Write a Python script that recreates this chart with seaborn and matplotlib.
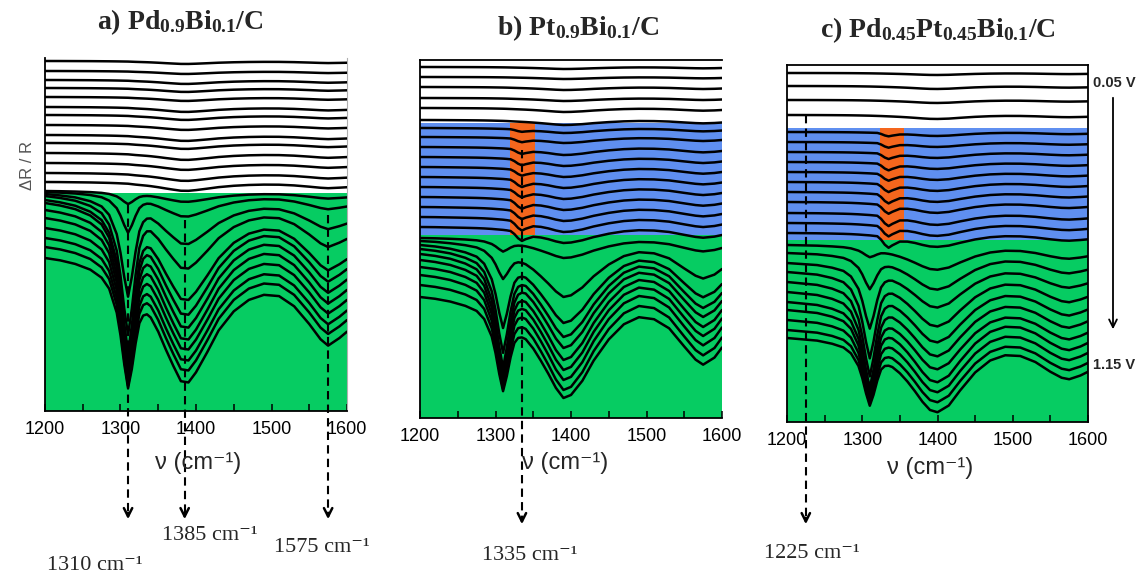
import numpy as np
import pandas as pd
import matplotlib
matplotlib.use('Agg')
import matplotlib.pyplot as plt
import seaborn as sns

NU = [1200, 1220, 1240, 1260, 1275, 1285, 1295, 1300, 1305, 1310, 1315, 1320,
      1325, 1330, 1335, 1340, 1350, 1360, 1370, 1380, 1390, 1400, 1415, 1430,
      1450, 1470, 1490, 1510, 1530, 1550, 1565, 1575, 1590, 1600]

# band shapes (normalised depth, 1 = band minimum)
SHARP_1310 = [0, .01, .02, .05, .09, .17, .36, .55, .80, 1.0, .76, .46,
              .22, .10, .04, .01, 0, 0, 0, 0, 0, 0, 0, 0,
              0, 0, 0, 0, 0, 0, 0, 0, 0, 0]
DIP_1335 = [0, 0, 0, 0, 0, 0, 0, 0, 0, 0, 0, 0,
            .3, .75, 1.0, .7, .2, .05, 0, 0, 0, 0, 0, 0,
            0, 0, 0, 0, 0, 0, 0, 0, 0, 0]
BROAD_A = [0, .01, .03, .05, .08, .10, .13, .15, .17, .19, .24, .29,
           .33, .37, .41, .46, .58, .72, .85, .97, .98, .90, .74, .57,
           .42, .33, .29, .30, .38, .52, .64, .69, .63, .58]
BROAD_B = [0, .01, .03, .05, .07, .09, .12, .14, .16, .18, .21, .25,
           .29, .33, .37, .41, .51, .63, .76, .90, 1.0, .97, .83, .63,
           .42, .27, .20, .22, .31, .49, .62, .67, .60, .50]
BROAD_C = [0, .01, .02, .04, .06, .08, .11, .13, .15, .17, .20, .23,
           .26, .30, .34, .38, .47, .58, .71, .85, .96, .99, .90, .70,
           .46, .30, .23, .24, .32, .45, .53, .55, .50, .45]

# a) Pd0.9Bi0.1/C  (offsets / depths in plot units)
A_WHITE_BASE = [350, 340, 331, 323, 314, 304, 296, 286, 276, 268, 258, 248, 238, 229]
A_WHITE_BROAD = [3, 3, 4, 4, 4, 5, 5, 5, 6, 6, 7, 7, 8, 9]
A_GREEN_BASE = [220, 219, 217, 215, 211, 208, 201, 193, 183, 173, 164, 153]
A_GREEN_SHARP = [11, 36, 93, 125, 133, 137, 137, 134, 128, 121, 115, 106]
A_GREEN_BROAD = [11, 25, 51, 74, 102, 114, 120, 124, 124, 125, 126, 127]

# b) Pt0.9Bi0.1/C
B_WHITE_BASE = [351, 341, 331, 320, 310, 298]
B_WHITE_BROAD = [2, 2, 3, 3, 4, 5]
B_BLUE_BASE = [290, 281, 271, 261, 251, 241, 231, 221, 211, 201, 191]
B_BLUE_BROAD = [5, 6, 8, 9, 10, 11, 12, 13, 14, 15, 16]
B_BLUE_DIP = [2, 3, 4, 5, 5, 6, 6, 7, 7, 8, 8]
B_GREEN_BASE = [180, 177, 173, 169, 164, 158, 151, 143, 133, 121]
B_GREEN_SHARP = [10, 28, 69, 88, 97, 98, 96, 92, 85, 76]
B_GREEN_BROAD = [20, 56, 78, 88, 94, 100, 103, 105, 105, 101]

# c) Pd0.45Pt0.45Bi0.1/C
C_WHITE_BASE = [349, 336, 322, 307]
C_WHITE_BROAD = [2, 3, 3, 4]
C_BLUE_BASE = [290, 280, 270, 260, 250, 240, 230, 220, 209, 199, 189]
C_BLUE_BROAD = [4, 5, 6, 7, 8, 9, 10, 11, 12, 13, 14]
C_BLUE_DIP = [3, 4, 5, 6, 6, 7, 8, 8, 9, 9, 10]
C_GREEN_BASE = [177, 169, 159, 150, 140, 130, 120, 112, 102, 92, 84]
C_GREEN_SHARP = [8, 30, 58, 77, 84, 85, 81, 76, 69, 61, 55]
C_GREEN_BROAD = [25, 37, 45, 55, 61, 65, 68, 73, 73, 73, 75]

TITLES = [r'a) Pd$_{0.9}$Bi$_{0.1}$/C',
          r'b) Pt$_{0.9}$Bi$_{0.1}$/C',
          r'c) Pd$_{0.45}$Pt$_{0.45}$Bi$_{0.1}$/C']
BAND_LABELS = ['1310 cm⁻¹', '1385 cm⁻¹', '1575 cm⁻¹', '1335 cm⁻¹', '1225 cm⁻¹']
BAND_POS_A = [1310, 1385, 1575]

GREEN = '#06cc62'
BLUE = '#5f8ff0'
ORANGE = '#f4661d'

W, H = 1147, 578

sns.set_theme(style='white')
plt.rcParams['font.family'] = ['Liberation Sans', 'DejaVu Sans']
plt.rcParams['mathtext.fontset'] = 'custom'
plt.rcParams['mathtext.rm'] = 'Liberation Serif:bold'
plt.rcParams['mathtext.bf'] = 'Liberation Serif:bold'
plt.rcParams['mathtext.default'] = 'bf'

SERIF = ['Liberation Serif', 'DejaVu Serif']


def make_traces(group, base, broad_amp, broad_prof, sharp_amp=None, dip_amp=None):
    frames = []
    for i, b0 in enumerate(base):
        y = b0 - broad_amp[i] * np.array(broad_prof)
        if sharp_amp is not None:
            y = y - sharp_amp[i] * np.array(SHARP_1310)
        if dip_amp is not None:
            y = y - dip_amp[i] * np.array(DIP_1335)
        frames.append(pd.DataFrame({'nu': NU, 'dR': y, 'trace': f'{group}{i}'}))
    return pd.concat(frames, ignore_index=True)


def add_panel(fig, left, top, right, bottom):
    ax = fig.add_axes([left / W, 1 - bottom / H, (right - left) / W, (bottom - top) / H])
    ax.set_xlim(1200, 1600)
    ax.set_ylim(0, bottom - top)
    ax.set_facecolor('white')
    return ax


def style_axis(ax, spines):
    ax.set_xticks([1200, 1300, 1400, 1500, 1600])
    ax.set_xticks([1250, 1350, 1450, 1550], minor=True)
    ax.set_yticks([])
    ax.tick_params(axis='x', which='both', direction='in', length=5, width=1.1,
                   bottom=True, top=False, labelsize=13, pad=7, colors='black')
    for name, sp in ax.spines.items():
        sp.set_visible(name in spines)
        sp.set_color('black')
        sp.set_linewidth(1.3)
    ax.set_xlabel('')
    ax.set_ylabel('')


def draw_traces(ax, df):
    sns.lineplot(data=df, x='nu', y='dR', units='trace', estimator=None, sort=False,
                 color='black', lw=1.8, ax=ax, legend=False, zorder=3)


def dashed_arrow(ax, nu, y_from, y_to):
    ax.plot([nu, nu], [y_from, y_to + 6], color='black', lw=1.5, ls=(0, (4, 2.5)),
            clip_on=False, zorder=4)
    ax.annotate('', xy=(nu, y_to), xytext=(nu, y_to + 12),
                arrowprops=dict(arrowstyle='->', color='black', lw=1.8, mutation_scale=15),
                annotation_clip=False)


fig = plt.figure(figsize=(W / 100, H / 100), dpi=100)

# ---- panel a
ax_a = add_panel(fig, 45, 58, 347, 411)
ax_a.axhspan(0, 218, color=GREEN, lw=0, zorder=0)
draw_traces(ax_a, pd.concat([
    make_traces('w', A_WHITE_BASE, A_WHITE_BROAD, BROAD_A),
    make_traces('g', A_GREEN_BASE, A_GREEN_BROAD, BROAD_A, A_GREEN_SHARP)]))
style_axis(ax_a, ['left', 'bottom', 'right'])
ax_a.spines['right'].set_color('#b0b0b0')
ax_a.spines['right'].set_linewidth(0.8)
for nu, top in zip(BAND_POS_A, [206, 191, 196]):
    dashed_arrow(ax_a, nu, top, -111)
fig.text(27 / W, 1 - 165 / H, 'ΔR / R', rotation=90, ha='center', va='center',
         fontsize=12, color='#555555')

# ---- panel b
ax_b = add_panel(fig, 420, 60, 722, 418)
ax_b.axhspan(0, 183, color=GREEN, lw=0, zorder=0)
ax_b.axhspan(183, 295, color=BLUE, lw=0, zorder=0)
ax_b.fill_between([1319, 1352], 183, 295, color=ORANGE, lw=0, zorder=1)
draw_traces(ax_b, pd.concat([
    make_traces('w', B_WHITE_BASE, B_WHITE_BROAD, BROAD_B),
    make_traces('b', B_BLUE_BASE, B_BLUE_BROAD, BROAD_B, None, B_BLUE_DIP),
    make_traces('g', B_GREEN_BASE, B_GREEN_BROAD, BROAD_B, B_GREEN_SHARP)]))
style_axis(ax_b, ['left', 'bottom', 'top'])
dashed_arrow(ax_b, 1335, 268, -109)

# ---- panel c
ax_c = add_panel(fig, 787, 65, 1088, 422)
ax_c.axhspan(0, 182, color=GREEN, lw=0, zorder=0)
ax_c.axhspan(182, 294, color=BLUE, lw=0, zorder=0)
ax_c.fill_between([1324, 1356], 182, 294, color=ORANGE, lw=0, zorder=1)
draw_traces(ax_c, pd.concat([
    make_traces('w', C_WHITE_BASE, C_WHITE_BROAD, BROAD_C),
    make_traces('b', C_BLUE_BASE, C_BLUE_BROAD, BROAD_C, None, C_BLUE_DIP),
    make_traces('g', C_GREEN_BASE, C_GREEN_BROAD, BROAD_C, C_GREEN_SHARP)]))
style_axis(ax_c, ['left', 'bottom', 'top', 'right'])
dashed_arrow(ax_c, 1225, 307, -105)

# potential sweep arrow
fig.text(1093 / W, 1 - 83 / H, '0.05 V', ha='left', va='center', fontsize=10.5,
         fontweight='bold')
fig.text(1093 / W, 1 - 365 / H, '1.15 V', ha='left', va='center', fontsize=10.5,
         fontweight='bold')
fig.add_artist(matplotlib.patches.FancyArrowPatch(
    (1113 / W, 1 - 95 / H), (1113 / W, 1 - 332 / H), transform=fig.transFigure,
    arrowstyle='->', mutation_scale=14, lw=1.3, color='black'))

# titles
for txt, (x, y) in zip(TITLES, [(180, 22), (578, 28), (938, 30)]):
    fig.text(x / W, 1 - y / H, txt, ha='center', va='center', fontsize=20,
             fontweight='bold', family=SERIF)

# x axis labels
for x, y in [(198, 463), (565, 463), (930, 468)]:
    fig.text(x / W, 1 - y / H, 'ν (cm⁻¹)', ha='center', va='center', fontsize=17)

# band labels
for txt, (x, y) in zip(BAND_LABELS,
                       [(95, 565), (210, 535), (322, 548), (530, 555), (812, 553)]):
    fig.text(x / W, 1 - y / H, txt, ha='center', va='center', fontsize=16,
             family=SERIF)

fig.savefig('out.png', dpi=100)
